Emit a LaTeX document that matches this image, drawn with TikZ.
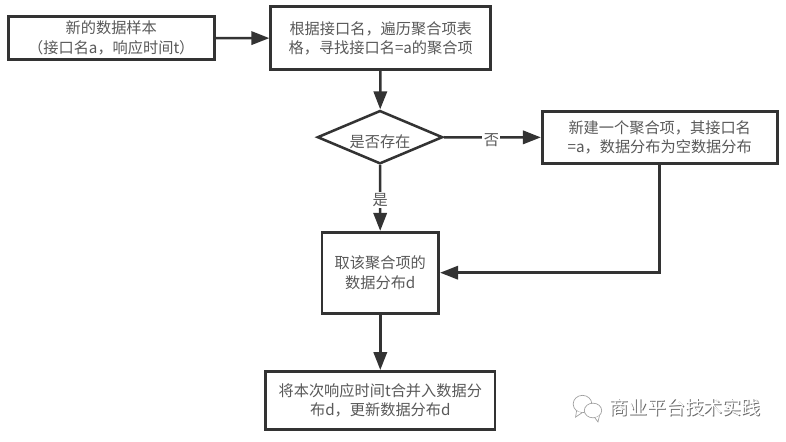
\documentclass[tikz,border=0pt]{standalone}
\usepackage{fontspec}
\setmainfont{Noto Sans CJK SC}
\usetikzlibrary{arrows.meta,shapes.geometric}
\definecolor{linegray}{rgb}{0.2,0.2,0.2}
\definecolor{textgray}{rgb}{0.35,0.35,0.35}
\definecolor{marklight}{rgb}{0.62,0.62,0.62}
\definecolor{markshade}{rgb}{0.42,0.42,0.42}
\tikzset{
	flowbase/.style={draw=linegray,fill=white,text=textgray,font=\fontsize{11.4pt}{14.5pt}\selectfont,align=center,inner sep=0pt},
	flowbox/.style={flowbase,line width=2.2pt,execute at begin node={\rule{0pt}{18.5pt}}},
	flowcheck/.style={flowbase,shape=diamond,aspect=2.33,line width=1.9pt,execute at begin node={\rule{0pt}{16pt}}},
	flowlabel/.style={fill=white,text=textgray,font=\fontsize{11.4pt}{14pt}\selectfont,inner sep=1pt},
	flowline/.style={draw=linegray,line width=1.9pt,-{Triangle[length=13.5pt,width=10pt]}},
	markbubble/.style={draw=marklight,line width=0.5pt,fill=white,shape=ellipse,inner sep=0pt}
}

\begin{document}
\begin{tikzpicture}[x=0.75pt,y=-0.75pt]
	\useasboundingbox (0,0) rectangle (786,442);
	% boxes
	\node[flowbox,minimum width=154.7pt,minimum height=32.5pt] (sample) at (111.3,38) {新的数据样本\\（接口名a，响应时间t）};
	\node[flowbox,minimum width=164.8pt,minimum height=47pt] (search) at (380.7,38.2) {根据接口名，遍历聚合项表\\格，寻找接口名=a的聚合项};
	\node[flowcheck,minimum width=94pt,minimum height=40pt] (exists) at (380,137.2) {是否存在};
	\node[flowbox,minimum width=176pt,minimum height=39pt] (create) at (659.7,137.5) {新建一个聚合项，其接口名\\=a，数据分布为空数据分布};
	\node[flowbox,minimum width=87.5pt,minimum height=60.5pt] (fetch) at (380.3,272.7) {取该聚合项的\\数据分布d};
	\node[flowbox,minimum width=172pt,minimum height=43.5pt] (merge) at (380.3,400.5) {将本次响应时间t合并入数据分\\布d，更新数据分布d};
	% arrows
	\draw[flowline] (sample) -- (search);
	\draw[flowline] (search) -- (exists);
	\draw[flowline] (exists) -- node[flowlabel,pos=0.49,yshift=-2pt] (nolabel) {否} (create);
	\draw[flowline] (exists) -- node[flowlabel,pos=0.53] (yeslabel) {是} (fetch);
	\draw[flowline] (create) |- (fetch);
	\draw[flowline] (fetch) -- (merge);
	% watermark
	\node[markbubble,minimum width=14pt,minimum height=13pt] (bubbleback) at (582.5,404) {};
	\draw[marklight,line width=0.5pt,fill=white] (bubbleback.-130) -- ++(-1,6) -- (bubbleback.-95);
	\node[markbubble,minimum width=13pt,minimum height=11pt] (bubblefront) at (593,410.5) {};
	\draw[marklight,line width=0.5pt,fill=white] (bubblefront.-75) -- ++(3,4) -- (bubblefront.-40);
	\node[text=markshade,font=\fontsize{14.2pt}{16pt}\selectfont,inner sep=0pt] (markshadow) at (686,408) {商业平台技术实践};
	\node[text=white,font=\fontsize{14.2pt}{16pt}\selectfont,inner sep=0pt] (marktext) at (685,407) {商业平台技术实践};
\end{tikzpicture}
\end{document}
